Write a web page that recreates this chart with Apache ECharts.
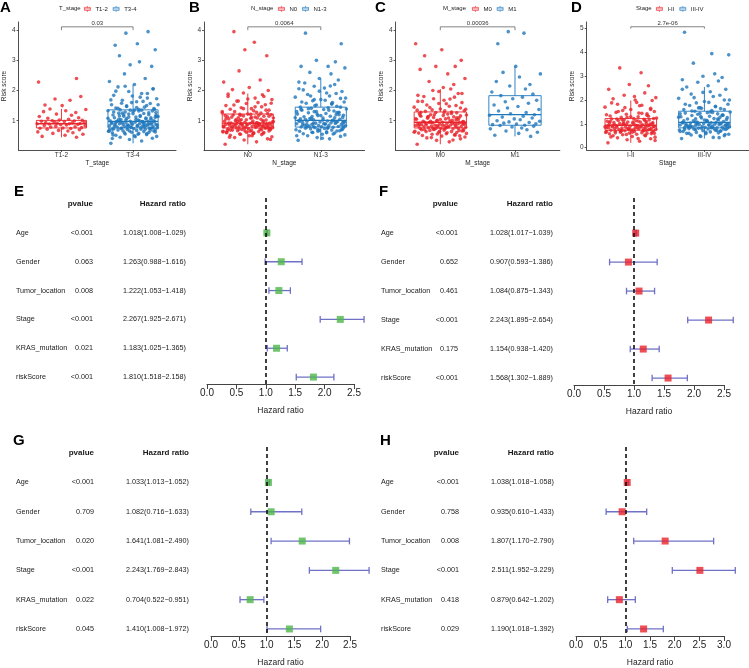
<!DOCTYPE html>
<html><head><meta charset="utf-8">
<script src="https://cdn.jsdelivr.net/npm/echarts@6/dist/echarts.min.js"></script>
<style>html,body{margin:0;padding:0;background:#fff}#c{width:749px;height:668px}</style>
</head><body><div id="c"></div>
<script>
// ---------------- DATA ----------------
const tStageGroups = ['T1-2','T3-4'];
const nStageGroups = ['N0','N1-3'];
const mStageGroups = ['M0','M1'];
const stageGroups = ['I-II','III-IV'];
const pTop = ['0.03','0.0064','0.00036','2.7e-06'];

// box stats: [lower whisker, Q1, median, Q3, upper whisker]
const boxT12 = [0.45,0.76,0.90,1.01,1.39];
const boxT34 = [0.25,0.76,0.98,1.36,2.20];
const boxN0  = [0.22,0.76,0.92,1.22,1.90];
const boxN13 = [0.35,0.79,1.01,1.45,2.40];
const boxM0  = [0.22,0.76,0.95,1.29,2.05];
const boxM1  = [0.48,0.85,1.20,1.83,2.80];
const boxI2  = [0.20,0.73,0.94,1.22,1.98];
const boxI4  = [0.38,0.83,1.06,1.53,2.55];

// jitter offsets (estimated horizontal scatter of points)
const jitterLarge = [-0.31,0.12,-0.05,0.27,-0.18,0.33,0.02,-0.24,0.19,-0.11,
0.08,-0.29,0.22,-0.02,0.15,-0.34,0.29,-0.14,0.05,-0.21,
0.31,-0.08,0.17,-0.27,0.01,0.24,-0.16,0.34,-0.03,0.11,
-0.22,0.28,-0.12,0.06,-0.33,0.2,-0.07,0.14,-0.25,0.32,
-0.01,0.23,-0.19,0.09,-0.3,0.16,-0.1,0.26,-0.15,0.03,
0.3,-0.23,0.13,-0.04,0.21,-0.32,0.07,-0.17,0.25,-0.09,
0.18,-0.26,0.04,0.35,-0.13,0.1,-0.28,0.22,-0.06,0.15,
-0.2,0.32,-0.11,0.0,0.27,-0.35,0.12,-0.18,0.08,0.29,
-0.24,0.05,-0.09,0.19,-0.3,0.24,-0.02,0.14,-0.15,0.33,
0.1,-0.27,0.2,-0.06,0.28,-0.21,0.02,-0.33,0.17,-0.12,
0.26,-0.04,0.09,-0.19,0.31,-0.25,0.06,-0.1,0.21,-0.29,
0.03,-0.28,0.19,-0.12,0.31,-0.05,0.24,-0.33,0.11,-0.17,
0.27,-0.08,0.15,-0.26,0.06,0.34,-0.14,0.21,-0.02,-0.3,
0.13,-0.22,0.29,-0.1,0.04,0.18,-0.35,0.25,-0.06,0.1,
-0.19,0.32,-0.13,0.0,0.22,-0.27,0.08,-0.04,0.3,-0.21,
0.16,-0.09,0.35,-0.16,0.05,-0.31,0.2,-0.01,0.12,-0.24,
0.28,-0.11,0.07,-0.34,0.23,-0.07,0.14,-0.2,0.33,-0.15,
0.02,0.26,-0.25,0.09,-0.03,0.17,-0.29,0.31,-0.18,0.11];
const jitterSmall = [0.21,-0.27,0.05,0.3,-0.12,0.16,-0.33,0.09,-0.04,0.25,
-0.2,0.13,-0.3,0.02,0.28,-0.15,0.19,-0.08,0.33,-0.24,
0.07,-0.01,0.23,-0.17,0.11,-0.34,0.26,-0.06,0.15,-0.22,
0.32,-0.1,0.04,-0.28,0.18,-0.13,0.29,-0.03,0.1,-0.19,
0.24,-0.31,0.14,-0.07,0.2,-0.25,0.06,0.34,-0.16,0.01,
-0.23,0.12,-0.09,0.27,-0.32];

// risk score points per group
const ysT12 = [0.45,0.48,0.52,0.55,0.58,0.6,0.63,0.66,0.68,0.7,0.72,0.74,0.75,0.76,
0.77,0.79,0.8,0.82,0.83,0.84,0.86,0.87,0.88,0.89,0.9,0.9,
0.91,0.92,0.93,0.94,0.95,0.96,0.97,0.98,0.99,1.0,1.01,1.02,
1.05,1.08,1.1,1.14,1.18,1.22,1.27,1.3,1.33,1.37,1.39,1.5,1.52,1.68,1.72,1.8,2.28,2.4];
const ysT34 = [0.25,0.33,0.38,0.42,0.45,0.48,0.5,0.52,0.54,0.56,0.58,0.6,0.61,0.62,0.64,0.65,0.66,0.67,0.68,0.69,0.7,0.71,0.72,0.73,0.74,0.75,0.76,
0.77,0.78,0.78,0.79,0.8,0.81,0.82,0.83,0.84,0.85,0.85,0.86,0.87,0.88,0.89,0.9,0.9,0.91,0.92,0.93,0.94,0.94,0.95,0.96,0.97,0.97,0.98,0.98,
1.0,1.02,1.04,1.05,1.07,1.09,1.1,1.12,1.14,1.15,1.17,1.19,1.2,1.22,1.24,1.25,1.27,1.29,1.3,1.32,1.33,1.35,1.36,1.38,1.4,1.42,1.44,
1.47,1.5,1.53,1.57,1.6,1.64,1.68,1.73,1.78,1.84,1.9,1.97,2.05,2.12,2.2,2.3,2.4,2.55,2.8,2.85,2.95,3.15,3.35,3.5,3.55,3.9,3.95,
0.41,0.47,0.53,0.57,0.6,0.63,0.66,0.68,0.7,0.72,0.74,0.76,0.78,0.8,0.82,0.84,0.86,0.88,0.9,0.92,0.94,0.96,0.98,1.0,1.02,1.04,1.06,1.08,1.1,1.12,
1.14,1.16,1.18,1.2,1.23,1.26,1.29,1.32,1.35,1.38,1.41,1.45,1.49,1.53,1.58,1.63,1.69,1.75,1.82,1.9,1.98,2.06,2.14,0.55,0.65,0.75,0.85,0.95,1.05,1.15,
1.25,1.35,0.88,0.92,1.0,0.79,0.83,0.72,1.11,0.97];
const ysN0 = [0.22,0.3,0.36,0.4,0.44,0.47,0.5,0.52,0.54,0.56,0.58,0.6,0.61,0.62,0.64,0.65,0.66,0.67,0.68,0.69,0.7,0.71,0.72,0.73,0.74,0.75,0.76,
0.77,0.78,0.78,0.79,0.8,0.8,0.81,0.82,0.83,0.83,0.84,0.85,0.85,0.86,0.87,0.87,0.88,0.88,0.89,0.9,0.9,0.91,0.91,0.92,0.92,
0.93,0.95,0.96,0.98,0.99,1.0,1.02,1.03,1.05,1.06,1.08,1.09,1.1,1.12,1.13,1.15,1.16,1.18,1.19,1.2,1.21,1.22,
1.24,1.26,1.28,1.3,1.33,1.35,1.38,1.4,1.43,1.46,1.5,1.53,1.57,1.6,1.65,1.7,1.75,1.8,1.86,1.92,2.0,2.03,2.1,2.28,2.35,2.65,3.15,3.35,3.6,3.95,
0.38,0.45,0.5,0.55,0.58,0.62,0.65,0.68,0.7,0.72,0.74,0.76,0.78,0.8,0.82,0.84,0.86,0.88,0.9,0.92,0.94,0.96,0.98,1.0,1.03,1.06,1.09,1.12,1.15,1.18,
1.21,1.25,1.3,1.35,1.4,1.46,1.52,1.58,1.65,1.72,1.8,1.88,0.6,0.67,0.73,0.79,0.85,0.91,0.97,1.04,1.11,1.17,0.81,0.87,0.93,0.69,0.75,1.01,0.57,0.63];
const ysN13 = [0.35,0.4,0.44,0.48,0.5,0.53,0.55,0.57,0.59,0.61,0.63,0.65,0.66,0.68,0.69,0.7,0.72,0.73,0.74,0.75,0.76,0.77,0.78,0.79,
0.8,0.81,0.82,0.83,0.84,0.85,0.86,0.87,0.88,0.89,0.9,0.91,0.92,0.93,0.94,0.95,0.96,0.97,0.98,0.99,1.0,1.01,
1.03,1.05,1.07,1.09,1.11,1.13,1.15,1.17,1.2,1.22,1.24,1.26,1.28,1.3,1.32,1.35,1.37,1.39,1.41,1.43,1.45,
1.48,1.52,1.55,1.58,1.62,1.66,1.7,1.74,1.78,1.82,1.87,1.92,1.97,2.02,2.08,2.14,2.2,2.28,2.35,2.4,2.55,2.6,2.75,2.8,2.8,2.95,3.0,3.55,3.9,
0.42,0.5,0.56,0.62,0.67,0.71,0.75,0.79,0.83,0.86,0.89,0.92,0.95,0.98,1.02,1.06,1.1,1.14,1.18,1.22,1.26,1.3,1.35,1.4,1.45,1.5,1.56,1.62,1.68,1.75,
1.82,1.9,1.98,2.06,2.15,2.25,0.7,0.8,0.9,1.0,1.1,1.2,1.3,0.77,0.87,0.97,1.07,1.17,1.27,1.37,0.6,0.65,0.94,1.04,1.6,1.7];
const ysM0 = [0.22,0.3,0.35,0.4,0.43,0.46,0.49,0.51,0.53,0.55,0.57,0.59,0.61,0.62,0.64,0.65,0.66,0.68,0.69,0.7,0.71,0.72,0.73,0.74,0.75,0.76,
0.77,0.78,0.79,0.8,0.8,0.81,0.82,0.83,0.84,0.84,0.85,0.86,0.87,0.88,0.88,0.89,0.9,0.91,0.91,0.92,0.93,0.93,0.94,0.95,
0.96,0.98,1.0,1.01,1.03,1.05,1.06,1.08,1.1,1.11,1.13,1.15,1.17,1.19,1.2,1.22,1.24,1.26,1.27,1.29,
1.31,1.33,1.36,1.39,1.42,1.45,1.48,1.52,1.56,1.6,1.64,1.68,1.73,1.78,1.84,1.9,1.97,2.05,2.3,2.4,2.55,2.7,2.8,2.8,3.0,3.15,3.35,3.55,
0.36,0.44,0.5,0.56,0.6,0.64,0.67,0.7,0.73,0.76,0.79,0.82,0.85,0.88,0.91,0.94,0.97,1.0,1.03,1.06,1.09,1.12,1.16,1.2,1.24,1.28,1.33,1.38,1.44,1.5,
1.57,1.64,1.72,1.8,1.9,2.0,2.1,2.2,0.62,0.68,0.74,0.8,0.86,0.92,0.98,1.04,1.1,1.18,0.77,0.83,0.89,0.95,1.01,0.71,0.58,1.14,1.26,1.35,0.53,0.65];
const ysM1 = [0.48,0.52,0.58,0.62,0.66,0.7,0.73,0.76,0.79,0.82,0.84,0.85,
0.87,0.89,0.9,0.92,0.94,0.96,0.98,1.0,1.03,1.06,1.09,1.12,1.15,1.18,1.2,
1.23,1.27,1.32,1.37,1.42,1.47,1.52,1.58,1.63,1.68,1.73,1.78,1.83,
1.88,1.95,2.05,2.15,2.2,2.3,2.45,2.55,2.6,2.8,3.55,3.9,3.95];
const ysI2 = [0.2,0.27,0.33,0.37,0.41,0.44,0.47,0.5,0.52,0.54,0.56,0.58,0.6,0.61,0.63,0.64,0.65,0.66,0.68,0.69,0.7,0.71,0.72,0.73,
0.74,0.75,0.76,0.77,0.78,0.79,0.8,0.81,0.82,0.83,0.84,0.85,0.86,0.87,0.88,0.89,0.9,0.91,0.92,0.93,0.94,
0.96,0.98,0.99,1.01,1.02,1.04,1.05,1.07,1.08,1.1,1.11,1.13,1.14,1.16,1.17,1.19,1.2,1.22,
1.24,1.27,1.3,1.33,1.36,1.4,1.44,1.48,1.52,1.56,1.6,1.65,1.7,1.76,1.82,1.9,1.98,2.05,2.15,2.2,2.3,2.45,2.6,2.65,3.15,3.35,
0.3,0.38,0.45,0.5,0.55,0.59,0.62,0.65,0.68,0.71,0.74,0.77,0.8,0.83,0.86,0.89,0.92,0.95,0.98,1.01,1.04,1.07,1.1,1.14,1.18,1.22,1.27,1.32,1.38,1.45,
1.52,1.6,1.68,1.78,1.88,2.0,2.1,0.66,0.72,0.78,0.84,0.9,0.96,1.02,1.08,0.75,0.81,0.87,0.93,0.99,1.12,1.2,0.6,0.7,1.3,1.42];
const ysI4 = [0.38,0.43,0.47,0.5,0.53,0.56,0.58,0.6,0.62,0.64,0.66,0.68,0.7,0.71,0.73,0.74,0.76,0.77,0.78,0.8,0.81,0.82,0.83,
0.84,0.85,0.86,0.87,0.88,0.89,0.9,0.91,0.92,0.93,0.94,0.95,0.96,0.97,0.98,0.99,1.0,1.01,1.02,1.03,1.04,1.05,1.06,
1.08,1.1,1.13,1.15,1.18,1.2,1.22,1.25,1.27,1.3,1.32,1.35,1.37,1.4,1.42,1.45,1.47,1.5,1.53,
1.56,1.6,1.64,1.68,1.72,1.77,1.82,1.88,1.94,2.0,2.07,2.15,2.25,2.35,2.45,2.55,2.6,2.75,2.8,2.85,2.95,3.0,3.1,3.55,3.9,3.95,4.85,
0.42,0.5,0.55,0.6,0.64,0.68,0.72,0.75,0.78,0.81,0.84,0.87,0.9,0.93,0.96,0.99,1.02,1.05,1.09,1.13,1.17,1.21,1.26,1.31,1.36,1.42,1.48,1.54,1.6,1.67,
1.74,1.82,1.9,2.0,2.1,2.2,2.32,2.45,0.8,0.88,0.96,1.04,1.12,1.2,1.28,1.36,1.44,0.85,0.92,1.0,1.08,1.16,0.7,0.76,1.5,1.65];

// forest plots
const forestVars = ['Age','Gender','Tumor_location','Stage','KRAS_mutation','riskScore'];
const pvalE = ['<0.001','0.063','0.008','<0.001','0.021','<0.001'];
const hrTextE = ['1.018(1.008\u22121.029)','1.263(0.988\u22121.616)','1.222(1.053\u22121.418)','2.267(1.925\u22122.671)','1.183(1.025\u22121.365)','1.810(1.518\u22122.158)'];
const hrE = [1.018,1.263,1.222,2.267,1.183,1.810];
const loE = [1.008,0.988,1.053,1.925,1.025,1.518];
const hiE = [1.029,1.616,1.418,2.671,1.365,2.158];
const pvalF = ['<0.001','0.652','0.461','<0.001','0.175','<0.001'];
const hrTextF = ['1.028(1.017\u22121.039)','0.907(0.593\u22121.386)','1.084(0.875\u22121.343)','2.243(1.895\u22122.654)','1.154(0.938\u22121.420)','1.568(1.302\u22121.889)'];
const hrF = [1.028,0.907,1.084,2.243,1.154,1.568];
const loF = [1.017,0.593,0.875,1.895,0.938,1.302];
const hiF = [1.039,1.386,1.343,2.654,1.420,1.889];
const pvalG = ['<0.001','0.709','0.020','<0.001','0.022','0.045'];
const hrTextG = ['1.033(1.013\u22121.052)','1.082(0.716\u22121.633)','1.641(1.081\u22122.490)','2.243(1.769\u22122.843)','0.704(0.522\u22120.951)','1.410(1.008\u22121.972)'];
const hrG = [1.033,1.082,1.641,2.243,0.704,1.410];
const loG = [1.013,0.716,1.081,1.769,0.522,1.008];
const hiG = [1.052,1.633,2.490,2.843,0.951,1.972];
const pvalH = ['<0.001','0.758','0.008','<0.001','0.418','0.029'];
const hrTextH = ['1.038(1.018\u22121.058)','0.935(0.610\u22121.433)','1.807(1.170\u22122.790)','2.511(1.952\u22123.229)','0.879(0.642\u22121.202)','1.190(1.018\u22121.392)'];
const hrH = [1.038,0.935,1.807,2.511,0.879,1.37];
const loH = [1.018,0.610,1.170,1.952,0.642,1.04];
const hiH = [1.058,1.433,2.790,3.229,1.202,1.77];

// ---------------- STYLE / LAYOUT ----------------
const RED = '#E8232A', BLUE = '#1F77BC', GREEN = '#4DB749', CICOL = '#6E71C6';
const FF = '"Liberation Sans", Arial, sans-serif';
const BOXICON = 'path://M0,3H12V9H0Z M6,0V3 M6,9V12 M0,6H12';

const topPanels = [
  {letter:'A', lt:'T_stage', groups:tStageGroups, boxes:[boxT12,boxT34], ys:[ysT12,ysT34], p:pTop[0],
   left:12.5, width:163.5, ymin:0.03, ymax:4.27, ticks:[1,2,3,4], br:[4.11,4.0], lx:0, ltx:59, lgx:84, ng:5},
  {letter:'B', lt:'N_stage', groups:nStageGroups, boxes:[boxN0,boxN13], ys:[ysN0,ysN13], p:pTop[1],
   left:204, width:160.6, ymin:0.03, ymax:4.27, ticks:[1,2,3,4], br:[4.11,4.0], lx:189, ltx:251, lgx:278, ng:5},
  {letter:'C', lt:'M_stage', groups:mStageGroups, boxes:[boxM0,boxM1], ys:[ysM0,ysM1], p:pTop[2],
   left:395.5, width:164.3, ymin:0.03, ymax:4.27, ticks:[1,2,3,4], br:[4.11,4.0], lx:375, ltx:443, lgx:472, ng:8},
  {letter:'D', lt:'Stage', groups:stageGroups, boxes:[boxI2,boxI4], ys:[ysI2,ysI4], p:pTop[3],
   left:586.6, width:162, ymin:-0.1, ymax:5.28, ticks:[0,1,2,3,4,5], br:[5.08,5.0], lx:571, ltx:636, lgx:656, ng:8}
];

const forestPanels = [
  {letter:'E', lx:14, ly:184, pv:pvalE, txt:hrTextE, hr:hrE, lo:loE, hi:hiE, col:GREEN,
   grid:{left:207, top:198, width:147, height:186}, xmax:2.5, cName:16, cP:93, cHR:186},
  {letter:'F', lx:379, ly:184, pv:pvalF, txt:hrTextF, hr:hrF, lo:loF, hi:hiF, col:RED,
   grid:{left:574, top:198, width:150, height:187}, xmax:2.5, cName:381, cP:458, cHR:553},
  {letter:'G', lx:13, ly:433, pv:pvalG, txt:hrTextG, hr:hrG, lo:loG, hi:hiG, col:GREEN,
   grid:{left:211, top:447, width:139, height:189}, xmax:2.5, cName:16, cP:94, cHR:189},
  {letter:'H', lx:380, ly:433, pv:pvalH, txt:hrTextH, hr:hrH, lo:loH, hi:hiH, col:RED,
   grid:{left:576, top:447, width:148, height:189}, xmax:3.0, cName:381, cP:459, cHR:554}
];

const grid = [], xAxis = [], yAxis = [], series = [], title = [], legend = [];

// ---------------- TOP PANELS ----------------
topPanels.forEach((P, k) => {
  title.push({text:P.letter, left:P.lx, top:0, padding:0, textStyle:{fontSize:15, fontWeight:'bold', color:'#000', fontFamily:FF}});
  title.push({text:P.lt, left:P.ltx, top:5.5, padding:0, textStyle:{fontSize:6, fontWeight:'normal', color:'#222', fontFamily:FF}});
  legend.push({left:P.lgx, top:5.5, padding:0, itemWidth:6, itemHeight:6, itemGap:5, selectedMode:false,
    textStyle:{fontSize:6, color:'#222', fontFamily:FF},
    data:P.groups.map((g,i)=>({name:g, icon:BOXICON, itemStyle:{color:'#fff', borderColor:i?BLUE:RED, borderWidth:0.8}}))});
  grid.push({left:P.left, top:22, width:P.width, height:128});
  xAxis.push({type:'value', gridIndex:k, min:0.4, max:2.6, splitLine:{show:false},
    axisLine:{show:true, onZero:false, lineStyle:{color:'#222', width:0.8}},
    axisTick:{show:true, customValues:[1,2], length:2, lineStyle:{color:'#333', width:0.8}},
    axisLabel:{customValues:[1,2], formatter:v=>P.groups[Math.round(v)-1], fontSize:6.5, color:'#333', margin:2, fontFamily:FF},
    name:P.lt, nameLocation:'middle', nameGap:7, nameTextStyle:{fontSize:6.5, color:'#222', fontFamily:FF}});
  yAxis.push({type:'value', gridIndex:k, min:P.ymin, max:P.ymax, splitLine:{show:false},
    axisLine:{show:true, onZero:false, lineStyle:{color:'#222', width:0.8}},
    axisTick:{show:true, customValues:P.ticks, length:2, lineStyle:{color:'#333', width:0.8}},
    axisLabel:{customValues:P.ticks, fontSize:6.5, color:'#333', margin:3, fontFamily:FF},
    name:'Risk score', nameLocation:'middle', nameRotate:90, nameGap:P.ng, nameTextStyle:{fontSize:6.5, color:'#222', fontFamily:FF}});
  P.ys.forEach((arr, g) => {
    const jit = arr.length > 70 ? jitterLarge : jitterSmall;
    series.push({type:'scatter', name:P.groups[g], xAxisIndex:k, yAxisIndex:k, symbolSize:3.6, silent:true, z:2,
      itemStyle:{color:g?BLUE:RED}, data:arr.map((y,i)=>[g+1+jit[i%jit.length], y])});
  });
  series.push({type:'custom', xAxisIndex:k, yAxisIndex:k, z:3, silent:true, clip:false,
    encode:{x:0, y:[1,2,3,4,5]},
    data:P.boxes.map((b,g)=>[g+1].concat(b)),
    renderItem:(params, api) => {
      const x = api.value(0), c = params.dataIndex ? BLUE : RED;
      const mn = api.value(1), q1 = api.value(2), md = api.value(3), q3 = api.value(4), mx = api.value(5);
      const tl = api.coord([x-0.35, q3]), br = api.coord([x+0.35, q1]);
      const m1 = api.coord([x-0.35, md]), m2 = api.coord([x+0.35, md]);
      const t = api.coord([x, mx]), b = api.coord([x, mn]);
      return {type:'group', children:[
        {type:'rect', shape:{x:tl[0], y:tl[1], width:br[0]-tl[0], height:br[1]-tl[1]}, style:{stroke:c, fill:'none', lineWidth:0.9}},
        {type:'line', shape:{x1:m1[0], y1:m1[1], x2:m2[0], y2:m2[1]}, style:{stroke:c, lineWidth:1.3}},
        {type:'line', shape:{x1:t[0], y1:t[1], x2:t[0], y2:tl[1]}, style:{stroke:c, lineWidth:0.9}},
        {type:'line', shape:{x1:b[0], y1:b[1], x2:b[0], y2:br[1]}, style:{stroke:c, lineWidth:0.9}}
      ]};
    }});
  series.push({type:'custom', xAxisIndex:k, yAxisIndex:k, z:4, silent:true, clip:false,
    encode:{x:[0,1], y:[2,3]},
    data:[[1, 2, P.br[0], P.br[1]]],
    renderItem:(params, api) => {
      const a = api.coord([api.value(0), api.value(3)]), b = api.coord([api.value(0), api.value(2)]);
      const c = api.coord([api.value(1), api.value(2)]), d = api.coord([api.value(1), api.value(3)]);
      return {type:'group', children:[
        {type:'polyline', shape:{points:[a,b,c,d]}, style:{stroke:'#666', fill:'none', lineWidth:0.8}},
        {type:'text', x:(b[0]+c[0])/2, y:b[1]-0.5, style:{text:P.p, align:'center', verticalAlign:'bottom', fontSize:6, fontFamily:FF, fill:'#333'}}
      ]};
    }});
});

// ---------------- FOREST PANELS ----------------
forestPanels.forEach((P, f) => {
  const gi = 4 + f;
  title.push({text:P.letter, left:P.lx, top:P.ly, padding:0, textStyle:{fontSize:15, fontWeight:'bold', color:'#000', fontFamily:FF}});
  grid.push(P.grid);
  xAxis.push({type:'value', gridIndex:gi, min:0, max:P.xmax, interval:0.5, splitLine:{show:false},
    axisLine:{show:true, onZero:false, lineStyle:{color:'#444', width:1}},
    axisTick:{show:true, length:5, lineStyle:{color:'#444', width:1}},
    axisLabel:{formatter:v=>v.toFixed(1), fontSize:10, color:'#222', margin:4, fontFamily:FF},
    name:'Hazard ratio', nameLocation:'middle', nameGap:22, nameTextStyle:{fontSize:8.5, color:'#222', fontFamily:FF}});
  yAxis.push({type:'value', gridIndex:gi, min:-0.21, max:6.24, inverse:true, show:false, splitLine:{show:false}});
  // table text
  series.push({type:'custom', xAxisIndex:gi, yAxisIndex:gi, silent:true, clip:false, z:5,
    encode:{x:0, y:1},
    data:[[1,0]].concat(forestVars.map((v,i)=>[1, i+1])),
    renderItem:(params, api) => {
      const row = api.value(1), y = api.coord([1, row])[1];
      const base = {fontFamily:FF, verticalAlign:'middle', fill:'#1a1a1a'};
      if (row === 0) {
        return {type:'group', children:[
          {type:'text', x:P.cP, y, style:Object.assign({text:'pvalue', align:'right', fontSize:8, fontWeight:'bold'}, base)},
          {type:'text', x:P.cHR, y, style:Object.assign({text:'Hazard ratio', align:'right', fontSize:8, fontWeight:'bold'}, base)}
        ]};
      }
      const i = row - 1;
      return {type:'group', children:[
        {type:'text', x:P.cName, y, style:Object.assign({text:forestVars[i], align:'left', fontSize:7.2}, base)},
        {type:'text', x:P.cP, y, style:Object.assign({text:P.pv[i], align:'right', fontSize:7.2}, base)},
        {type:'text', x:P.cHR, y, style:Object.assign({text:P.txt[i], align:'right', fontSize:7.2}, base)}
      ]};
    }});
  // confidence intervals
  series.push({type:'custom', xAxisIndex:gi, yAxisIndex:gi, silent:true, clip:false, z:3,
    encode:{x:[0,1], y:2},
    data:P.lo.map((l,i)=>[l, P.hi[i], i+1]),
    renderItem:(params, api) => {
      const a = api.coord([api.value(0), api.value(2)]), b = api.coord([api.value(1), api.value(2)]);
      const h = 3.3, st = {stroke:CICOL, lineWidth:1.3};
      return {type:'group', children:[
        {type:'line', shape:{x1:a[0], y1:a[1], x2:b[0], y2:b[1]}, style:st},
        {type:'line', shape:{x1:a[0], y1:a[1]-h, x2:a[0], y2:a[1]+h}, style:st},
        {type:'line', shape:{x1:b[0], y1:b[1]-h, x2:b[0], y2:b[1]+h}, style:st}
      ]};
    }});
  // point estimates + reference line
  series.push({type:'scatter', xAxisIndex:gi, yAxisIndex:gi, silent:true, z:4, symbol:'rect', symbolSize:7,
    itemStyle:{color:P.col}, data:P.hr.map((v,i)=>[v, i+1]),
    markLine:{silent:true, symbol:'none', label:{show:false}, animation:false,
      lineStyle:{color:'#111', type:[4,3], width:1.6}, data:[{xAxis:1}]}});
});

const chart = echarts.init(document.getElementById('c'));
chart.setOption({animation:false, backgroundColor:'#fff', textStyle:{fontFamily:FF},
  title, legend, grid, xAxis, yAxis, series});
</script>
</body></html>
